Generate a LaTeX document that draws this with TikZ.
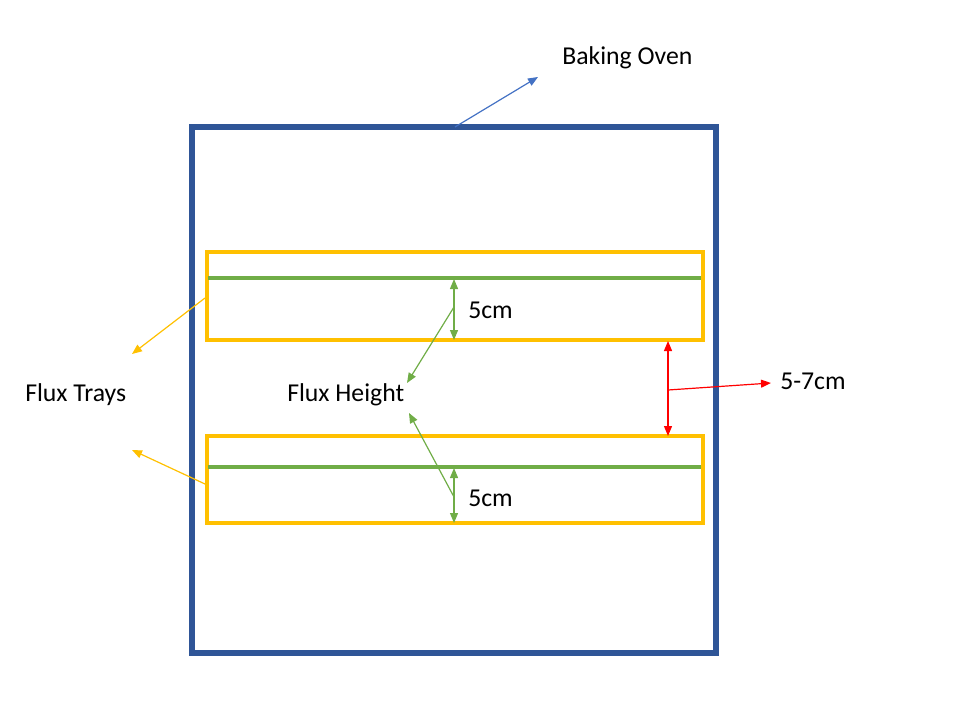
\documentclass[tikz,border=0pt]{standalone}
\usepackage{fontspec}
\setmainfont{Carlito}
\usetikzlibrary{arrows.meta}
\definecolor{ovenblue}{HTML}{2F5597}
\definecolor{arrblue}{HTML}{4472C4}
\definecolor{trayyellow}{HTML}{FFC000}
\definecolor{fluxgreen}{HTML}{70AD47}
\definecolor{redline}{HTML}{FF0000}
\tikzset{
  lbl/.style={anchor=west, inner sep=0pt, font=\fontsize{19.3}{23}\selectfont},
  tip/.style={-{Triangle[length=7.5pt,width=6pt]}},
  tips/.style={{Triangle[length=7.5pt,width=6pt]}-{Triangle[length=7.5pt,width=6pt]}},
  tray/.style={draw=trayyellow, line width=3pt},
  fluxline/.style={draw=fluxgreen, line width=2.6pt},
}
\begin{document}
\begin{tikzpicture}[x=0.75pt,y=-0.75pt]
\useasboundingbox (0,0) rectangle (962,702);
% oven
\draw[ovenblue, line width=4.5pt] (192,127) rectangle (716,653);
% trays
\draw[tray] (206.5,251.5) rectangle (702.5,339.5);
\draw[tray] (206.5,435.5) rectangle (702.5,522.5);
\coordinate (g1a) at (208,278); \coordinate (g1b) at (701,278);
\coordinate (g2a) at (208,467); \coordinate (g2b) at (701,467);
\draw[fluxline] (g1a) -- (g1b);
\draw[fluxline] (g2a) -- (g2b);
% labels
\node[lbl] (oven) at (562,58) {Baking Oven};
\node[lbl] (trays) at (25,395) {Flux Trays};
\node[lbl] (height) at (287,395) {Flux Height};
\node[lbl] (c1) at (468,310) {5cm};
\node[lbl] (c2) at (468,498) {5cm};
\node[lbl] (gap) at (780,381) {5-7cm};
% oven arrow
\coordinate (o1) at (455,127); \coordinate (o2) at (538,77);
\draw[arrblue, line width=0.9pt, tip] (o1) -- (o2);
% tray arrows
\coordinate (t1s) at (205,298); \coordinate (t1e) at (132,354);
\coordinate (t2s) at (205,484); \coordinate (t2e) at (132,450);
\draw[trayyellow, line width=0.9pt, tip] (t1s) -- (t1e);
\draw[trayyellow, line width=0.9pt, tip] (t2s) -- (t2e);
% 5cm arrows
\coordinate (v1a) at (454,279); \coordinate (v1b) at (454,340);
\coordinate (v2a) at (454,468); \coordinate (v2b) at (454,523);
\draw[fluxgreen, line width=0.9pt, tips] (v1a) -- (v1b);
\draw[fluxgreen, line width=0.9pt, tips] (v2a) -- (v2b);
% flux height arrows
\coordinate (h1s) at (454,307); \coordinate (h1e) at (407,383);
\coordinate (h2s) at (454,497); \coordinate (h2e) at (409,413);
\draw[fluxgreen, line width=0.9pt, tip] (h1s) -- (h1e);
\draw[fluxgreen, line width=0.9pt, tip] (h2s) -- (h2e);
% gap arrows
\coordinate (r1) at (668,341); \coordinate (r2) at (668,436);
\coordinate (rs) at (668,390); \coordinate (re) at (771,383);
\draw[redline, line width=0.9pt, tips] (r1) -- (r2);
\draw[redline, line width=0.9pt, tip] (rs) -- (re);
\end{tikzpicture}
\end{document}
